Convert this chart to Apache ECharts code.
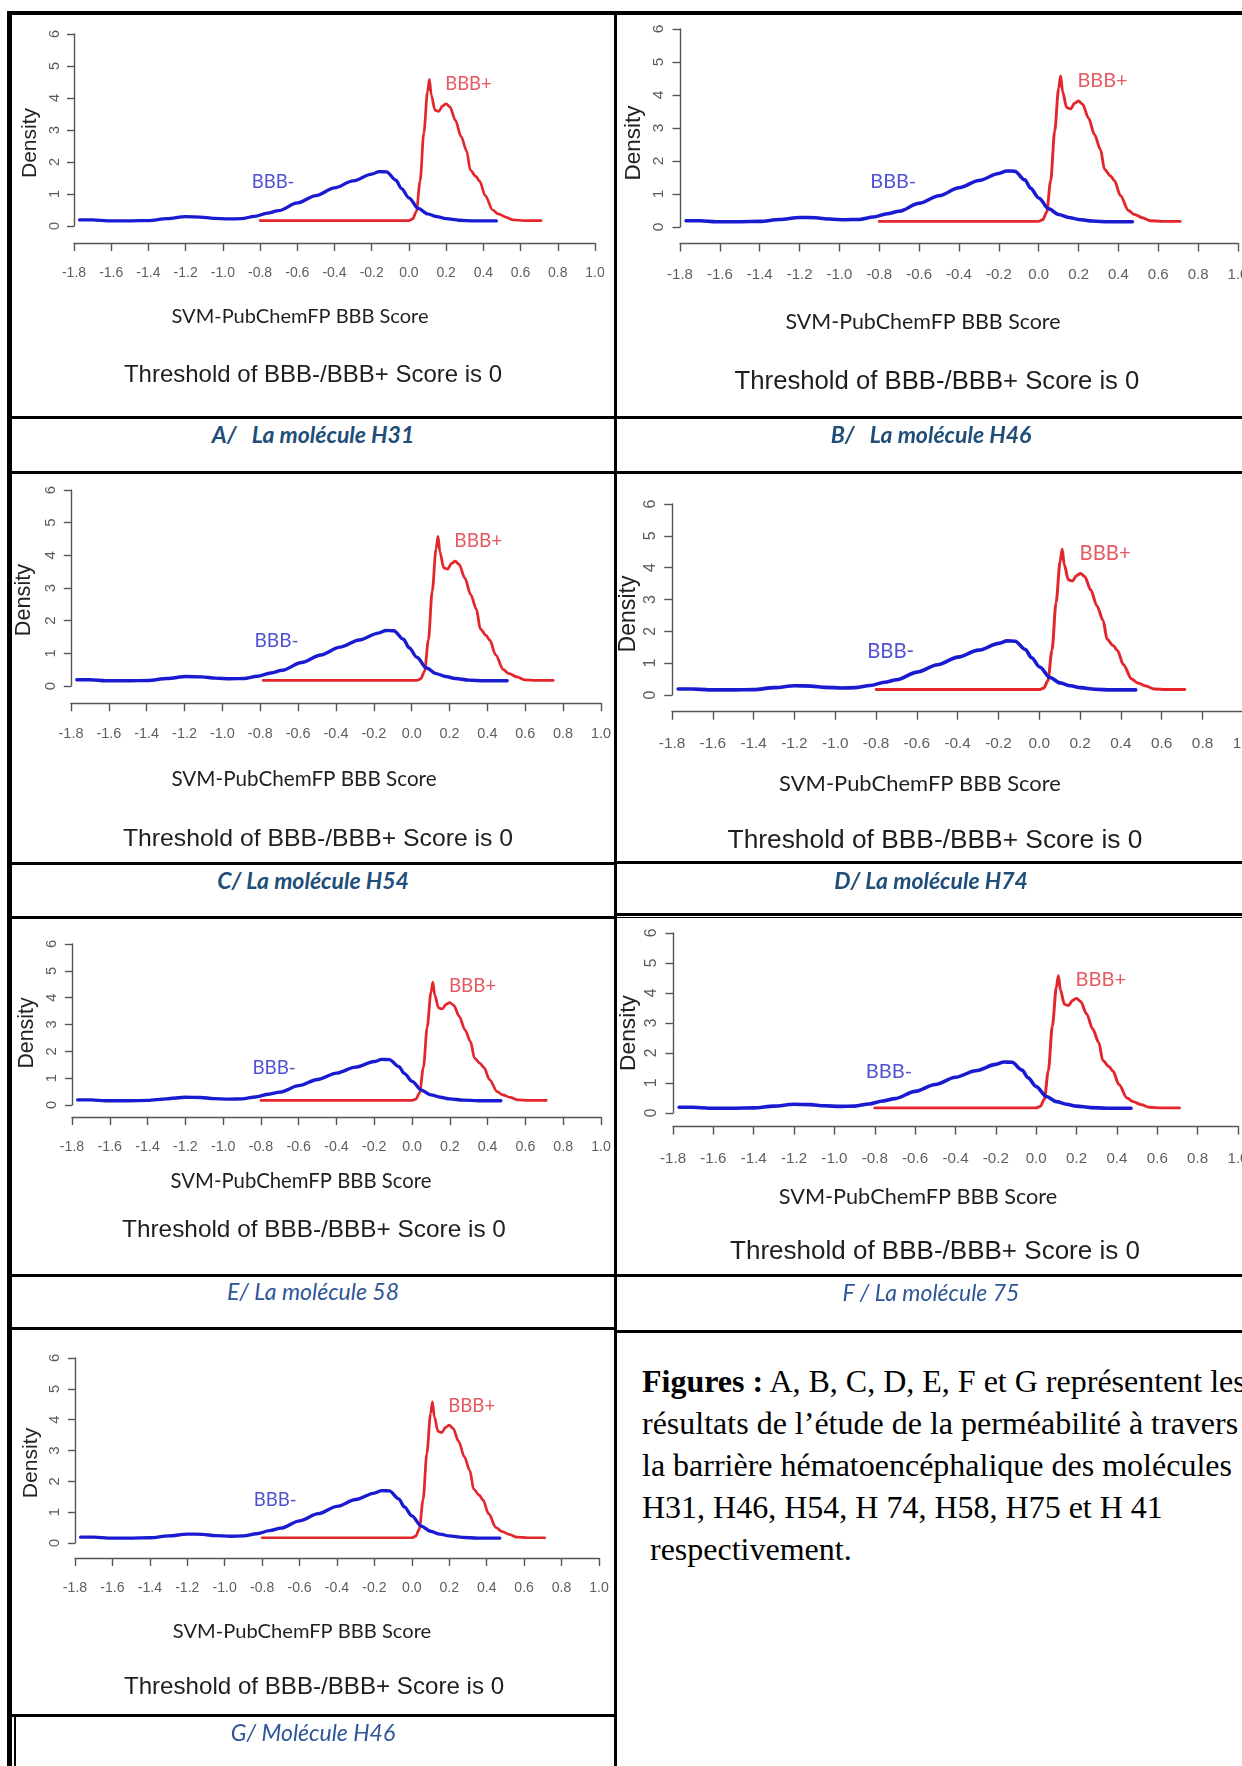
<!DOCTYPE html>
<html><head><meta charset="utf-8">
<script src="https://cdn.jsdelivr.net/npm/echarts/dist/echarts.min.js"></script>
<style>
html,body{margin:0;padding:0;width:1242px;height:1766px;overflow:hidden;background:#fff;position:relative;}
.chart{position:absolute;z-index:1;}
.ln{position:absolute;background:#000;z-index:5;}
.cap{position:absolute;text-align:center;font-family:Lato,'Open Sans',sans-serif;font-style:italic;font-size:23px;color:#1F4E79;white-space:pre;z-index:6;line-height:26px;}
.capr{font-weight:normal;color:#2F5597;}
.capb{font-weight:bold;}
#para{position:absolute;left:642px;top:1360px;font-family:'Liberation Serif','Times New Roman',serif;font-size:32px;line-height:42px;color:#000;white-space:pre;z-index:6;}
</style></head><body>
<div id="charts"></div>

<div class="cap capb" style="left:12px;width:602px;top:421px;">A/   La molécule H31</div>
<div class="cap capb" style="left:617px;width:628px;top:421px;">B/   La molécule H46</div>
<div class="cap capb" style="left:12px;width:602px;top:867px;">C/ La molécule H54</div>
<div class="cap capb" style="left:617px;width:628px;top:867px;">D/ La molécule H74</div>
<div class="cap capr" style="left:12px;width:602px;top:1278px;">E/ La molécule 58</div>
<div class="cap capr" style="left:617px;width:628px;top:1279px;">F / La molécule 75</div>
<div class="cap capr" style="left:12px;width:602px;top:1719px;">G/ Molécule H46</div>

<div id="para"><b>Figures :</b> A, B, C, D, E, F et G représentent les
résultats de l’étude de la perméabilité à travers
la barrière hématoencéphalique des molécules
H31, H46, H54, H 74, H58, H75 et H 41
 respectivement.</div>

<!-- table borders -->
<div class="ln" style="left:7px;top:11px;width:1300px;height:4px;"></div>
<div class="ln" style="left:7px;top:11px;width:5px;height:1760px;"></div>
<div class="ln" style="left:614px;top:11px;width:3px;height:1760px;"></div>
<div class="ln" style="left:7px;top:416px;width:1300px;height:3px;"></div>
<div class="ln" style="left:7px;top:471px;width:1300px;height:3px;"></div>
<div class="ln" style="left:7px;top:862px;width:610px;height:2.5px;"></div>
<div class="ln" style="left:614px;top:861px;width:700px;height:3px;"></div>
<div class="ln" style="left:7px;top:916px;width:610px;height:2.5px;"></div>
<div class="ln" style="left:614px;top:913px;width:700px;height:2.5px;"></div>
<div class="ln" style="left:614px;top:917px;width:700px;height:1.2px;"></div>
<div class="ln" style="left:7px;top:1274px;width:610px;height:2.5px;"></div>
<div class="ln" style="left:614px;top:1274px;width:700px;height:3px;"></div>
<div class="ln" style="left:7px;top:1327px;width:610px;height:3px;"></div>
<div class="ln" style="left:614px;top:1330px;width:700px;height:3px;"></div>
<div class="ln" style="left:7px;top:1714px;width:610px;height:3px;"></div>
<div class="ln" style="left:14px;top:1716px;width:1.5px;height:60px;"></div>

<script>
// ---------- data (identical in every panel) ----------
const bbbMinusX = [-1.77,-1.70,-1.62,-1.50,-1.40,-1.30,-1.20,-1.12,-1.05,-0.97,-0.90,-0.83,-0.76,-0.70,-0.60,-0.50,-0.40,-0.30,-0.20,-0.16,-0.12,-0.07,-0.04,0.00,0.05,0.10,0.15,0.20,0.27,0.35,0.47];
const bbbMinusY = [0.19,0.19,0.16,0.16,0.17,0.23,0.29,0.28,0.24,0.22,0.23,0.30,0.40,0.48,0.72,0.95,1.19,1.41,1.62,1.70,1.69,1.43,1.17,0.88,0.55,0.38,0.29,0.23,0.18,0.16,0.16];
const bbbPlusX = [-0.80,-0.40,0.00,0.02,0.04,0.06,0.08,0.10,0.11,0.12,0.14,0.16,0.18,0.20,0.22,0.25,0.28,0.31,0.33,0.36,0.38,0.41,0.45,0.48,0.52,0.56,0.62,0.71];
const bbbPlusY = [0.17,0.17,0.17,0.22,0.45,1.40,2.90,4.20,4.58,4.10,3.62,3.58,3.75,3.82,3.72,3.30,2.80,2.35,1.75,1.55,1.40,0.95,0.50,0.38,0.28,0.19,0.17,0.17];
const curveNames = ['BBB-', 'BBB+'];
const curveLabelX = [-0.73, 0.32];
const curveLabelY = [1.38, 4.45];
const xTickMin = -1.8, xTickMax = 1.0, xTickStep = 0.2;
const yTickMin = 0, yTickMax = 6, yTickStep = 1;
const yAxisTitle = 'Density';
const xAxisTitle = 'SVM-PubChemFP BBB Score';
const thresholdText = 'Threshold of BBB-/BBB+ Score is 0';

// ---------- layout of each pasted plot (page pixels) ----------
const panels = [
 {cell:[12,15,602,402],   ax0:74,  ax1:595,  y6:34,   y0:226,  xline:243,  xlab:275,  title:[300,317],  thr:[313,375],  dens:[30,143]},
 {cell:[605,15,652,402],  ax0:680, ax1:1238, y6:29,   y0:227,  xline:243,  xlab:277,  title:[923,322],  thr:[937,382],  dens:[634,143]},
 {cell:[12,474,602,389],  ax0:71,  ax1:609,  y6:490,  y0:686,  xline:703,  xlab:737,  title:[304,779],  thr:[318,839],  dens:[24,600]},
 {cell:[605,474,652,388], ax0:672, ax1:1244, y6:504,  y0:695,  xline:711,  xlab:742,  title:[920,784],  thr:[935,841],  dens:[629,614]},
 {cell:[12,918,602,357],  ax0:72,  ax1:601,  y6:944,  y0:1105, xline:1117, xlab:1144, title:[301,1181], thr:[314,1230], dens:[27,1033]},
 {cell:[605,918,652,357], ax0:673, ax1:1238, y6:933,  y0:1113, xline:1126, xlab:1157, title:[918,1197], thr:[935,1252], dens:[629,1033]},
 {cell:[12,1331,602,383], ax0:75,  ax1:599,  y6:1358, y0:1543, xline:1558, xlab:1589, title:[302,1632], thr:[314,1687], dens:[31,1463]}
];

const host = document.getElementById('charts');
panels.forEach(function(p){
  const [cx, cy, cw, ch] = p.cell;
  const div = document.createElement('div');
  div.className = 'chart';
  div.style.left = cx + 'px'; div.style.top = cy + 'px';
  div.style.width = cw + 'px'; div.style.height = ch + 'px';
  host.appendChild(div);
  const s = (p.ax1 - p.ax0) / 521;
  const left = p.ax0 - cx, right = cx + cw - p.ax1;
  const chart = echarts.init(div, null, {renderer:'canvas'});
  const fmtX = function(v){ if (Math.abs(v) < 1e-9) return '0.0'; return v.toFixed(1); };
  chart.setOption({
    animation: false,
    grid: [
      {left: left, right: right, top: p.y6 - cy, height: p.y0 - p.y6},
      {left: left, right: right, top: p.xline - cy - 1, height: 1}
    ],
    xAxis: [
      {gridIndex:0, type:'value', min:xTickMin, max:xTickMax, show:false},
      {gridIndex:1, type:'value', min:xTickMin, max:xTickMax, interval:xTickStep,
       axisLine:{show:true, onZero:false, lineStyle:{color:'#555', width:1.4}},
       axisTick:{show:true, length:8*s, lineStyle:{color:'#555', width:1.4}},
       axisLabel:{show:true, margin:23*s, color:'#5e5e5e', fontSize:14*s, fontFamily:'Liberation Sans, Arial, sans-serif',
                  showMinLabel:true, showMaxLabel:true, formatter: fmtX},
       splitLine:{show:false}}
    ],
    yAxis: [
      {gridIndex:0, type:'value', min:yTickMin, max:yTickMax, interval:yTickStep,
       axisLine:{show:true, onZero:false, lineStyle:{color:'#555', width:1.4}},
       axisTick:{show:true, length:7*s, lineStyle:{color:'#555', width:1.4}},
       axisLabel:{show:true, rotate:90, margin:12*s, color:'#5a5a5a', fontSize:14.5*s, fontFamily:'Liberation Sans, Arial, sans-serif'},
       splitLine:{show:false}},
      {gridIndex:1, type:'value', min:0, max:1, show:false}
    ],
    series: [
      {type:'line', xAxisIndex:0, yAxisIndex:0, name:curveNames[0], showSymbol:false, smooth:0.3, smoothMonotone:'x',
       data: bbbMinusX.map(function(x,i){return [x, bbbMinusY[i]];}),
       lineStyle:{color:'#1a1ad0', width:3.3*s, cap:'round', join:'round'}, z:3},
      {type:'line', xAxisIndex:0, yAxisIndex:0, name:curveNames[1], showSymbol:false, smooth:0.3, smoothMonotone:'x',
       data: bbbPlusX.map(function(x,i){return [x, bbbPlusY[i]];}),
       lineStyle:{color:'#e3262b', width:2.7*s, cap:'round', join:'round'}, z:2},
      {type:'scatter', xAxisIndex:0, yAxisIndex:0, symbolSize:1, silent:true,
       itemStyle:{color:'rgba(0,0,0,0)'},
       data: curveNames.map(function(n,i){return {name:n, value:[curveLabelX[i], curveLabelY[i]],
         label:{color: i===0 ? '#2626c8' : '#e0303a'}};}),
       label:{show:true, position:'inside', formatter:function(d){return d.name;},
              fontSize:18.5*s, fontFamily:'Lato, Open Sans, sans-serif'}}
    ],
    graphic: [
      {type:'text', x:p.dens[0]-cx, y:p.dens[1]-cy, rotation:Math.PI/2,
       style:{text:yAxisTitle, fontSize:21*s, fontFamily:'Liberation Sans, Arial, sans-serif', fill:'#222',
              align:'center', verticalAlign:'middle', textAlign:'center', textVerticalAlign:'middle'}},
      {type:'text', x:p.title[0]-cx, y:p.title[1]-cy,
       style:{text:xAxisTitle, fontSize:20*s, fontFamily:'Lato, Open Sans, sans-serif', fill:'#1f1f1f',
              align:'center', verticalAlign:'middle', textAlign:'center', textVerticalAlign:'middle'}},
      {type:'text', x:p.thr[0]-cx, y:p.thr[1]-cy,
       style:{text:thresholdText, fontSize:24*s, fontFamily:'Liberation Sans, Arial, sans-serif', fill:'#1e1e1e',
              align:'center', verticalAlign:'middle', textAlign:'center', textVerticalAlign:'middle'}}
    ]
  });
});
</script>
</body></html>
